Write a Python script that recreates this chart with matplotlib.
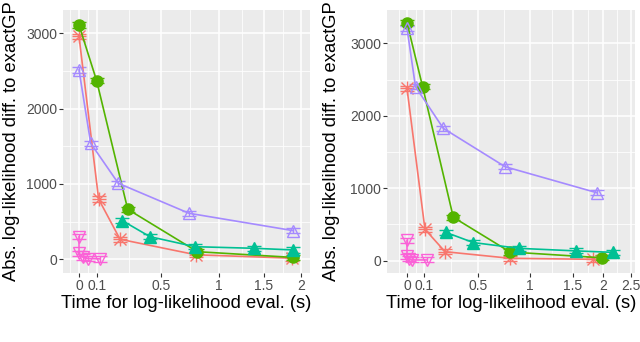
import numpy as np
import matplotlib.pyplot as plt

plt.rcParams['font.family'] = ['Liberation Sans', 'DejaVu Sans']

# ---- data ----
# left panel
l_red_x = [0.0, 0.11, 0.244, 0.80, 1.874]
l_red_y = [2960, 800, 266, 60, 15]
l_grn_x = [0.0, 0.098, 0.292, 0.813, 1.888]
l_grn_y = [3110, 2370, 664, 101, 25]
l_teal_x = [0.258, 0.431, 0.793, 1.389, 1.896]
l_teal_y = [513, 300, 167, 146, 124]
l_purp_x = [0.0, 0.065, 0.233, 0.741, 1.896]
l_purp_y = [2513, 1540, 1009, 611, 380]
l_pink_x = [0.0, 0.0, 0.02, 0.05, 0.12]
l_pink_y = [300, 80, 30, 10, 5]

# right panel
r_red_x = [0.0, 0.107, 0.256, 0.808, 1.84]
r_red_y = [2378, 433, 124, 33, 19]
r_grn_x = [0.0, 0.092, 0.317, 0.808, 1.978]
r_grn_y = [3283, 2400, 599, 120, 40]
r_teal_x = [0.263, 0.465, 0.897, 1.55, 2.173]
r_teal_y = [390, 250, 170, 135, 115]
r_purp_x = [0.0, 0.05, 0.243, 0.76, 1.895]
r_purp_y = [3206, 2400, 1826, 1297, 938]
r_pink_x = [0.0, 0.0, 0.01, 0.03, 0.12]
r_pink_y = [280, 60, 30, 10, 10]

l_xticks = [0, 0.1, 0.5, 1, 1.5, 2]
r_xticks = [0, 0.1, 0.5, 1, 1.5, 2, 2.5]
l_xlabels = ["0", "0.1", "0.5", "1", "1.5", "2"]
r_xlabels = ["0", "0.1", "0.5", "1", "1.5", "2", "2.5"]
yticks = [0, 1000, 2000, 3000]

RED, GRN, TEAL, PURP, PINK = "#F8766D", "#53B400", "#00C094", "#A58AFF", "#FB61D7"


def warp(kx, kp):
    """piecewise linear x-scale (the time axis is squeezed at large values)"""
    kx = np.asarray(kx, float)
    kp = np.asarray(kp, float)
    s0 = (kp[1] - kp[0]) / (kx[1] - kx[0])
    s1 = (kp[-1] - kp[-2]) / (kx[-1] - kx[-2])

    def fwd(x):
        x = np.asarray(x, float)
        y = np.interp(x, kx, kp)
        y = np.where(x < kx[0], kp[0] + (x - kx[0]) * s0, y)
        return np.where(x > kx[-1], kp[-1] + (x - kx[-1]) * s1, y)

    def inv(p):
        p = np.asarray(p, float)
        y = np.interp(p, kp, kx)
        y = np.where(p < kp[0], kx[0] + (p - kp[0]) / s0, y)
        return np.where(p > kp[-1], kx[-1] + (p - kp[-1]) / s1, y)

    return fwd, inv


fig = plt.figure(figsize=(6.4, 3.42), dpi=100)
H = 342.0


def panel(left_px, right_px, kp, ticks, labels, minors, ylim, series):
    ax = fig.add_axes([left_px / 640, (H - 273) / H, (right_px - left_px) / 640, 263 / H])
    fwd, inv = warp(ticks, kp)
    ax.set_xscale('function', functions=(fwd, inv))
    ax.set_xlim(float(inv(left_px)), float(inv(right_px)))
    ax.set_ylim(*ylim)
    ax.set_facecolor("#EBEBEB")
    for s in ax.spines.values():
        s.set_visible(False)
    ax.set_xticks(ticks)
    ax.set_xticklabels(labels)
    ax.set_xticks(minors, minor=True)
    ax.set_yticks(yticks)
    ax.set_yticklabels([str(v) for v in yticks])
    ax.set_yticks([500, 1500, 2500], minor=True)
    ax.grid(which='major', color='white', lw=1.1)
    ax.grid(which='minor', color='white', lw=0.55)
    ax.set_axisbelow(True)
    ax.tick_params(which='major', length=3, width=0.8, color='#333333',
                   labelcolor='#4D4D4D', labelsize=10, pad=1.2)
    ax.tick_params(which='minor', length=0)

    for xs, ys, c, m, filled, ms in series:
        ax.errorbar(xs, ys, yerr=35, fmt='none', ecolor=c, elinewidth=1,
                    capsize=5, capthick=1, zorder=3)
        if filled:
            ax.plot(xs, ys, color=c, lw=1.2, marker=m, ms=ms, mfc=c, mec=c, zorder=4)
        else:
            ax.plot(xs, ys, color=c, lw=1.2, marker=m, ms=ms, mfc='none', mec=c,
                    mew=1.0, zorder=4)
        if m == 'x':
            ax.plot(xs, ys, ls='none', marker='+', ms=ms + 2, mec=c, mew=1.0, zorder=4)

    ax.set_xlabel("Time for log-likelihood eval. (s)", fontsize=13.2)
    ax.set_ylabel("Abs. log-likelihood diff. to exactGP", fontsize=13.2)
    return ax


ax1 = panel(63, 310, [79, 97, 161, 219, 264, 301], l_xticks, l_xlabels,
            [-0.05, 0.05, 0.3, 0.75, 1.25, 1.75], (-182, 3309),
            [(l_red_x, l_red_y, RED, 'x', True, 8),
             (l_grn_x, l_grn_y, GRN, 'o', True, 8),
             (l_teal_x, l_teal_y, TEAL, '^', True, 9),
             (l_purp_x, l_purp_y, PURP, '^', False, 9),
             (l_pink_x, l_pink_y, PINK, 'v', False, 9)])
ax1.yaxis.set_label_coords(-0.175, 0.5)
ax1.xaxis.set_label_coords(0.5, -0.082)

ax2 = panel(387, 635, [407, 424, 478, 530, 573, 603, 631], r_xticks, r_xlabels,
            [-0.05, 0.05, 0.3, 0.75, 1.25, 1.75, 2.25], (-170, 3459),
            [(r_red_x, r_red_y, RED, 'x', True, 8),
             (r_grn_x, r_grn_y, GRN, 'o', True, 8),
             (r_teal_x, r_teal_y, TEAL, '^', True, 9),
             (r_purp_x, r_purp_y, PURP, '^', False, 9),
             (r_pink_x, r_pink_y, PINK, 'v', False, 9)])
ax2.yaxis.set_label_coords(-0.19, 0.5)
ax2.xaxis.set_label_coords(0.5, -0.082)

fig.savefig("out.png", dpi=100)
